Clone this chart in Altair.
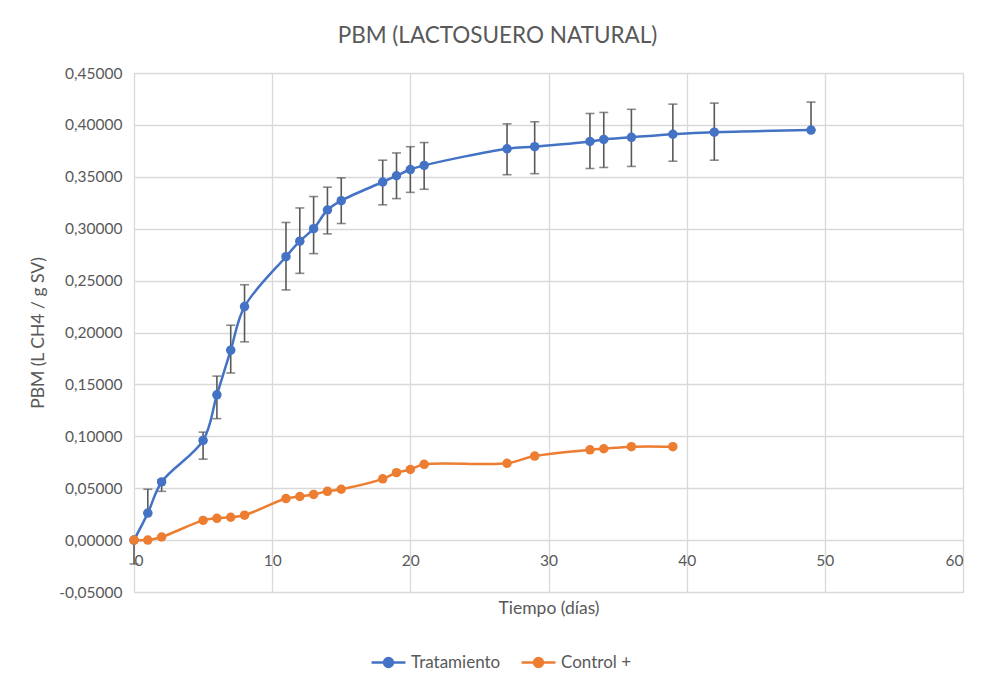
import altair as alt
import pandas as pd

# ---- data ----
days_t = [0, 1, 2, 5, 6, 7, 8, 11, 12, 13, 14, 15, 18, 19, 20, 21, 27, 29, 33, 34, 36, 39, 42, 49]
pbm_t = [0.000, 0.026, 0.056, 0.096, 0.140, 0.183, 0.225, 0.273, 0.288, 0.300, 0.318, 0.327,
         0.345, 0.351, 0.357, 0.361, 0.377, 0.379, 0.384, 0.386, 0.388, 0.391, 0.393, 0.395]
err_lo = [-0.023, 0.026, 0.047, 0.078, 0.117, 0.161, 0.191, 0.241, 0.257, 0.276, 0.295, 0.305,
          0.323, 0.329, 0.335, 0.338, 0.352, 0.353, 0.358, 0.359, 0.360, 0.365, 0.366, 0.395]
err_hi = [0.000, 0.049, 0.058, 0.104, 0.158, 0.207, 0.246, 0.306, 0.320, 0.331, 0.340, 0.349,
          0.366, 0.373, 0.379, 0.383, 0.401, 0.403, 0.411, 0.412, 0.415, 0.420, 0.421, 0.422]

days_c = [0, 1, 2, 5, 6, 7, 8, 11, 12, 13, 14, 15, 18, 19, 20, 21, 27, 29, 33, 34, 36, 39]
pbm_c = [0.000, 0.000, 0.003, 0.019, 0.021, 0.022, 0.024, 0.040, 0.042, 0.044, 0.047, 0.049,
         0.059, 0.065, 0.068, 0.073, 0.074, 0.081, 0.087, 0.088, 0.090, 0.090]

series_names = ["Tratamiento", "Control +"]
series_colors = ["#4472C4", "#ED7D31"]
legend_x = [236, 386]
x_ticks = [0, 10, 20, 30, 40, 50, 60]
y_ticks = [-0.05, 0.0, 0.05, 0.10, 0.15, 0.20, 0.25, 0.30, 0.35, 0.40, 0.45]

df = pd.concat([
    pd.DataFrame({"dia": days_t, "pbm": pbm_t, "serie": series_names[0]}),
    pd.DataFrame({"dia": days_c, "pbm": pbm_c, "serie": series_names[1]}),
], ignore_index=True)
df_err = pd.DataFrame({"dia": days_t, "lo": err_lo, "hi": err_hi})

FONT = "Lato"
TXT = "#595959"
GRID = "#D9D9D9"
ERR = "#595959"

x_scale = alt.Scale(domain=[0, 60], nice=False)
y_scale = alt.Scale(domain=[-0.05, 0.45], nice=False)

x_axis = alt.Axis(values=x_ticks, grid=True, gridColor=GRID, gridWidth=1.3, domain=False, ticks=False,
                  offset=-51, labelPadding=12, labelFont=FONT, labelFontSize=15.5, labelColor=TXT,
                  title="Tiempo (días)", titleFont=FONT, titleFontSize=17.5, titleFontWeight="normal",
                  titleColor=TXT, titleY=67, titleBaseline="middle")
y_axis = alt.Axis(values=y_ticks, grid=True, gridColor=GRID, gridWidth=1.3, domain=False, ticks=False,
                  labelPadding=12, labelFont=FONT, labelFontSize=15.5, labelColor=TXT,
                  labelExpr="replace(replace(format(datum.value, '.5f'), '.', ','), '\u2212', '-')",
                  title="PBM (L CH4 / g SV)", titleFont=FONT, titleFontSize=17.5, titleFontWeight="normal",
                  titleColor=TXT, titlePadding=11)

SYMBOL = "M -0.26 0 A 0.26 0.26 0 1 0 0.26 0 A 0.26 0.26 0 1 0 -0.26 0 Z M -1 0 L 1 0"

err_rule = alt.Chart(df_err).mark_rule(color=ERR, strokeWidth=1.6).encode(
    x=alt.X("dia:Q", scale=x_scale, axis=x_axis),
    y=alt.Y("lo:Q", scale=y_scale, axis=y_axis),
    y2="hi:Q",
)
err_lo_tick = alt.Chart(df_err).mark_tick(color=ERR, thickness=1.6, size=9, orient="horizontal").encode(
    x=alt.X("dia:Q", scale=x_scale), y=alt.Y("lo:Q", scale=y_scale))
err_hi_tick = alt.Chart(df_err).mark_tick(color=ERR, thickness=1.6, size=9, orient="horizontal").encode(
    x=alt.X("dia:Q", scale=x_scale), y=alt.Y("hi:Q", scale=y_scale))

layers = [err_rule, err_lo_tick, err_hi_tick]
for i, name in enumerate(series_names):
    col = series_colors[i]
    sub = df[df["serie"] == name]
    line = alt.Chart(sub).mark_line(strokeWidth=2.5, interpolate="catmull-rom", color=col).encode(
        x=alt.X("dia:Q", scale=x_scale),
        y=alt.Y("pbm:Q", scale=y_scale),
    )
    leg = alt.Legend(
        title=None, orient="none", legendX=legend_x[i], legendY=571, direction="horizontal",
        symbolType=SYMBOL, symbolSize=1150, symbolStrokeWidth=2.5,
        symbolFillColor=col, symbolStrokeColor=col, symbolOpacity=1,
        labelFont=FONT, labelFontSize=17, labelColor=TXT, labelOffset=4,
    )
    pts = alt.Chart(sub).mark_circle(size=90, opacity=1).encode(
        x=alt.X("dia:Q", scale=x_scale),
        y=alt.Y("pbm:Q", scale=y_scale),
        color=alt.Color("serie:N", scale=alt.Scale(domain=[name], range=[col]), legend=leg),
    )
    layers += [line, pts]

chart = alt.layer(*layers).resolve_scale(color="independent").properties(
    width=829, height=519,
    title=alt.TitleParams("PBM (LACTOSUERO NATURAL)", font=FONT, fontSize=22.5, fontWeight="normal",
                          color=TXT, anchor="middle", dx=-51, offset=19),
    autosize=alt.AutoSizeParams(type="none"),
    padding={"left": 134, "top": 73, "right": 32, "bottom": 96},
).configure_view(stroke=None).configure(background="white")

chart.save("out.html", embed_options={"renderer": "svg", "actions": False})
